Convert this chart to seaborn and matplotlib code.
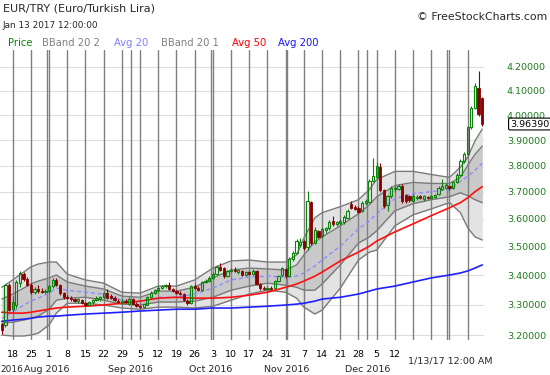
import pandas as pd
import matplotlib
matplotlib.use("Agg")
import matplotlib.pyplot as plt
import matplotlib.ticker as mticker
from matplotlib.transforms import blended_transform_factory
import seaborn as sns

# --- data: EUR/TRY daily candles, 13 Jul 2016 .. 13 Jan 2017 (forex weekdays) ---
dates = pd.bdate_range("2016-07-13", "2017-01-13")

opens = [3.235, 3.233, 3.366, 3.285, 3.300, 3.375, 3.405, 3.388, 3.368, 3.342,
         3.352, 3.347, 3.344, 3.345, 3.362, 3.384, 3.366, 3.338, 3.326, 3.322,
         3.318, 3.312, 3.316, 3.305, 3.300, 3.308, 3.316, 3.320, 3.325, 3.340,
         3.330, 3.324, 3.314, 3.310, 3.312, 3.304, 3.318, 3.304, 3.296, 3.294,
         3.300, 3.325, 3.340, 3.348, 3.358, 3.362, 3.368, 3.354, 3.346, 3.340,
         3.336, 3.314, 3.306, 3.362, 3.358, 3.350, 3.376, 3.382, 3.392, 3.404,
         3.430, 3.424, 3.398, 3.414, 3.420, 3.412, 3.416, 3.402, 3.410, 3.404,
         3.414, 3.370, 3.358, 3.352, 3.356, 3.356, 3.380, 3.400, 3.422, 3.398,
         3.456, 3.478, 3.506, 3.520, 3.498, 3.662, 3.515, 3.556, 3.538, 3.560,
         3.566, 3.594, 3.580, 3.586, 3.588, 3.604, 3.655, 3.645, 3.642, 3.628,
         3.658, 3.664, 3.742, 3.758, 3.796, 3.706, 3.650, 3.684, 3.710, 3.712,
         3.722, 3.688, 3.684, 3.668, 3.676, 3.684, 3.674, 3.682, 3.676, 3.680,
         3.692, 3.712, 3.716, 3.724, 3.714, 3.736, 3.766, 3.818, 3.846, 3.950,
         4.030, 4.110, 4.070]
highs = [3.240, 3.370, 3.372, 3.330, 3.385, 3.415, 3.412, 3.395, 3.372, 3.360,
         3.365, 3.358, 3.352, 3.368, 3.392, 3.390, 3.370, 3.342, 3.332, 3.330,
         3.324, 3.322, 3.320, 3.310, 3.314, 3.320, 3.328, 3.330, 3.342, 3.352,
         3.336, 3.330, 3.320, 3.318, 3.318, 3.325, 3.322, 3.308, 3.300, 3.304,
         3.330, 3.345, 3.352, 3.362, 3.368, 3.370, 3.378, 3.358, 3.350, 3.346,
         3.340, 3.318, 3.368, 3.370, 3.362, 3.382, 3.386, 3.396, 3.410, 3.436,
         3.442, 3.428, 3.420, 3.426, 3.428, 3.422, 3.420, 3.414, 3.414, 3.422,
         3.418, 3.374, 3.362, 3.360, 3.362, 3.384, 3.402, 3.428, 3.426, 3.462,
         3.484, 3.526, 3.530, 3.524, 3.705, 3.668, 3.570, 3.560, 3.570, 3.572,
         3.596, 3.612, 3.592, 3.598, 3.615, 3.635, 3.665, 3.652, 3.648, 3.665,
         3.672, 3.748, 3.830, 3.815, 3.812, 3.712, 3.690, 3.722, 3.722, 3.730,
         3.730, 3.694, 3.690, 3.692, 3.688, 3.690, 3.688, 3.686, 3.690, 3.694,
         3.722, 3.750, 3.732, 3.728, 3.742, 3.772, 3.824, 3.852, 3.956, 4.036,
         4.132, 4.182, 4.075]
lows = [3.205, 3.225, 3.278, 3.275, 3.290, 3.360, 3.380, 3.362, 3.335, 3.335,
        3.338, 3.340, 3.338, 3.340, 3.358, 3.362, 3.333, 3.320, 3.318, 3.314,
        3.310, 3.306, 3.302, 3.296, 3.296, 3.304, 3.312, 3.314, 3.320, 3.318,
        3.318, 3.312, 3.305, 3.304, 3.305, 3.300, 3.300, 3.292, 3.290, 3.290,
        3.298, 3.320, 3.335, 3.344, 3.352, 3.356, 3.350, 3.342, 3.336, 3.332,
        3.312, 3.300, 3.302, 3.352, 3.346, 3.346, 3.372, 3.378, 3.388, 3.400,
        3.416, 3.392, 3.394, 3.410, 3.410, 3.404, 3.398, 3.398, 3.400, 3.400,
        3.366, 3.350, 3.348, 3.346, 3.348, 3.352, 3.376, 3.396, 3.392, 3.394,
        3.450, 3.474, 3.500, 3.490, 3.490, 3.505, 3.508, 3.530, 3.532, 3.548,
        3.560, 3.576, 3.574, 3.578, 3.582, 3.600, 3.638, 3.632, 3.620, 3.624,
        3.650, 3.660, 3.738, 3.750, 3.700, 3.640, 3.628, 3.678, 3.700, 3.706,
        3.660, 3.660, 3.664, 3.664, 3.670, 3.672, 3.668, 3.672, 3.672, 3.676,
        3.688, 3.708, 3.712, 3.708, 3.710, 3.732, 3.760, 3.812, 3.840, 3.944,
        4.024, 3.998, 3.955]
closes = [3.215, 3.366, 3.282, 3.310, 3.378, 3.408, 3.388, 3.368, 3.342, 3.352,
          3.345, 3.344, 3.346, 3.364, 3.384, 3.366, 3.338, 3.325, 3.322, 3.318,
          3.314, 3.318, 3.305, 3.300, 3.310, 3.316, 3.322, 3.326, 3.338, 3.322,
          3.322, 3.316, 3.310, 3.312, 3.310, 3.320, 3.304, 3.296, 3.294, 3.302,
          3.326, 3.340, 3.348, 3.358, 3.364, 3.366, 3.354, 3.346, 3.340, 3.336,
          3.316, 3.306, 3.364, 3.358, 3.350, 3.378, 3.382, 3.392, 3.406, 3.430,
          3.420, 3.396, 3.414, 3.420, 3.414, 3.418, 3.402, 3.410, 3.404, 3.416,
          3.370, 3.356, 3.352, 3.356, 3.354, 3.380, 3.398, 3.424, 3.396, 3.458,
          3.478, 3.520, 3.516, 3.496, 3.665, 3.512, 3.560, 3.536, 3.564, 3.566,
          3.590, 3.582, 3.588, 3.594, 3.606, 3.630, 3.642, 3.638, 3.626, 3.660,
          3.666, 3.740, 3.760, 3.800, 3.706, 3.646, 3.684, 3.716, 3.716, 3.724,
          3.666, 3.668, 3.670, 3.686, 3.682, 3.676, 3.684, 3.676, 3.684, 3.690,
          3.716, 3.722, 3.726, 3.714, 3.736, 3.766, 3.818, 3.846, 3.950, 4.030,
          4.118, 4.006, 3.9639]

# indicator readings (candle index of each reading)
ind_idx = [0, 3, 6, 8, 10, 13, 15, 18, 23, 28, 33, 38, 43, 48, 53, 58, 63, 68,
           73, 78, 81, 83, 86, 88, 93, 98, 101, 103, 108, 113, 118, 123, 126,
           128, 130, 132]
bb2_upper = [3.359, 3.384, 3.411, 3.429, 3.439, 3.446, 3.446, 3.404, 3.384,
             3.373, 3.342, 3.339, 3.363, 3.363, 3.384, 3.425, 3.450, 3.453,
             3.446, 3.446, 3.471, 3.531, 3.604, 3.623, 3.645, 3.671, 3.709,
             3.747, 3.778, 3.778, 3.766, 3.755, 3.794, 3.833, 3.896, 3.944]
bb1_upper = [3.319, 3.336, 3.356, 3.370, 3.380, 3.391, 3.401, 3.377, 3.363,
             3.353, 3.329, 3.325, 3.346, 3.346, 3.359, 3.391, 3.418, 3.425,
             3.422, 3.418, 3.436, 3.471, 3.517, 3.535, 3.575, 3.619, 3.652,
             3.682, 3.724, 3.736, 3.732, 3.732, 3.755, 3.801, 3.844, 3.876]
avg20 = [3.255, 3.275, 3.299, 3.312, 3.322, 3.339, 3.356, 3.349, 3.342,
         3.336, 3.315, 3.312, 3.325, 3.325, 3.336, 3.356, 3.384, 3.394,
         3.397, 3.394, 3.397, 3.408, 3.432, 3.453, 3.502, 3.564, 3.593,
         3.619, 3.675, 3.694, 3.701, 3.709, 3.740, 3.759, 3.782, 3.809]
bb1_lower = [3.239, 3.242, 3.249, 3.255, 3.262, 3.285, 3.315, 3.322, 3.325,
             3.315, 3.302, 3.299, 3.309, 3.309, 3.312, 3.325, 3.349, 3.363,
             3.373, 3.366, 3.359, 3.349, 3.349, 3.370, 3.436, 3.513, 3.535,
             3.557, 3.630, 3.656, 3.671, 3.682, 3.697, 3.686, 3.671, 3.660]
bb2_lower = [3.200, 3.197, 3.197, 3.200, 3.206, 3.233, 3.272, 3.305, 3.305,
             3.299, 3.289, 3.285, 3.292, 3.292, 3.289, 3.295, 3.315, 3.336,
             3.349, 3.342, 3.322, 3.292, 3.269, 3.282, 3.356, 3.453, 3.481,
             3.488, 3.575, 3.615, 3.637, 3.660, 3.623, 3.568, 3.535, 3.524]
avg50 = [3.275, 3.272, 3.272, 3.275, 3.279, 3.285, 3.289, 3.292, 3.295,
         3.299, 3.305, 3.312, 3.322, 3.325, 3.322, 3.322, 3.325, 3.332,
         3.342, 3.359, 3.370, 3.380, 3.397, 3.411, 3.450, 3.481, 3.502,
         3.520, 3.553, 3.582, 3.612, 3.641, 3.660, 3.678, 3.701, 3.720]
avg200 = [3.245, 3.249, 3.252, 3.255, 3.259, 3.262, 3.262, 3.265, 3.269,
          3.272, 3.275, 3.279, 3.282, 3.285, 3.285, 3.289, 3.289, 3.292,
          3.295, 3.299, 3.302, 3.305, 3.312, 3.319, 3.325, 3.336, 3.346,
          3.353, 3.363, 3.377, 3.391, 3.401, 3.408, 3.415, 3.425, 3.436]

price_ticks = [3.2, 3.3, 3.4, 3.5, 3.6, 3.7, 3.8, 3.9, 4.0, 4.1, 4.2]
last_price = 3.96390

UP = "#0a820a"
DOWN = "#850000"
GRID = "#808080"

sns.set_style("white")
plt.rcParams["font.family"] = ["DejaVu Sans"]

fig = plt.figure(figsize=(5.5, 3.75), dpi=100)
ax = fig.add_axes([0, 35 / 375, 484 / 550, 290 / 375])
ax.set_yscale("log")

# bollinger bands
ax.fill_between(ind_idx, bb2_lower, bb2_upper, color="#e3e3e3", lw=0, zorder=1)
ax.fill_between(ind_idx, bb1_lower, bb1_upper, color="#c9c9c9", lw=0, zorder=1.1)

# week / month grid
n = len(dates)
mondays = [i for i, d in enumerate(dates) if d.weekday() == 0]
month_first = [i for i in range(1, n) if dates[i].month != dates[i - 1].month]
for i in mondays:
    ax.axvline(i, color=GRID, lw=1.0, zorder=1.5)
for i in month_first:
    ax.axvline(i - 0.6, color=GRID, lw=1.0, zorder=1.5)
for v in price_ticks:
    ax.axhline(v, color="#dedede", lw=0.8, zorder=0.5)

for band in (bb2_upper, bb2_lower, bb1_upper, bb1_lower):
    sns.lineplot(x=ind_idx, y=band, color="#7a7a7a", lw=1.0, ax=ax, zorder=2)
sns.lineplot(x=ind_idx, y=avg20, color="#8c8cff", lw=1.0, ax=ax, zorder=2.2,
             linestyle=(0, (3, 2)))
sns.lineplot(x=ind_idx, y=avg50, color="#ff1010", lw=1.2, ax=ax, zorder=2.3)
sns.lineplot(x=ind_idx, y=avg200, color="#1f1fff", lw=1.2, ax=ax, zorder=2.3)

# candles
for i in range(n):
    o, h, l, c = opens[i], highs[i], lows[i], closes[i]
    col = UP if c >= o else DOWN
    top, bot = max(o, c), min(o, c)
    ax.vlines(i, top, h, color=col, lw=0.8, zorder=3)
    ax.vlines(i, l, bot, color=col, lw=0.8, zorder=3)
    if c >= o:
        ax.bar(i, top - bot, bottom=bot, width=0.62, facecolor="none",
               edgecolor=col, lw=0.8, zorder=3.1)
    else:
        ax.bar(i, top - bot, bottom=bot, width=0.62, facecolor=col,
               edgecolor=col, lw=0.6, zorder=3.1)

ax.set_xlim(-0.484, 132.48)
ax.set_ylim(3.184, 4.273)
for s in ax.spines.values():
    s.set_visible(False)

ax.yaxis.tick_right()
ax.yaxis.set_major_locator(mticker.FixedLocator(price_ticks))
ax.yaxis.set_minor_locator(mticker.NullLocator())
ax.yaxis.set_major_formatter(mticker.FuncFormatter(lambda v, p: f"{v:.5f}"))
ax.tick_params(axis="y", length=0, pad=16.5, labelsize=6.8, labelcolor="#1d7a1d")

labelled = [i for i in mondays if dates[i] <= pd.Timestamp("2016-12-12")]
ax.set_xticks(labelled)
ax.set_xticklabels([str(dates[i].day) for i in labelled])
ax.tick_params(axis="x", length=0, pad=7.5, labelsize=6.8, labelcolor="black")
ax.xaxis.set_minor_locator(mticker.NullLocator())

bt = blended_transform_factory(ax.transData, ax.transAxes)
for i in month_first[:-1]:
    ax.text(i - 0.6, -0.1034, dates[i].strftime("%b %Y"), transform=bt,
            ha="center", va="center", fontsize=6.8)
# July label: only its year part fits at the left edge
ax.text(0.5 / 484, -0.1034, "2016", transform=ax.transAxes, ha="left",
        va="center", fontsize=6.5)
ax.text(0.93, -0.074, "1/13/17 12:00 AM", transform=ax.transAxes, ha="center",
        va="center", fontsize=6.8)

# last price box
pt = blended_transform_factory(ax.transAxes, ax.transData)
ax.text(510 / 484, last_price, f"{last_price:.5f}", transform=pt, ha="left",
        va="center", fontsize=6.8, color="black", zorder=5,
        bbox=dict(boxstyle="round,pad=0.15", fc="white", ec="black", lw=0.8))

# header
fig.text(3 / 550, 1 - 8.5 / 375, "EUR/TRY (Euro/Turkish Lira)", ha="left",
         va="center", fontsize=8.0)
fig.text(2 / 550, 1 - 25 / 375, "Jan 13 2017 12:00:00", ha="left",
         va="center", fontsize=6.4)
fig.text(547 / 550, 1 - 17.5 / 375, "\u00a9 FreeStockCharts.com", ha="right",
         va="center", fontsize=7.8)
legend_items = [("Price", 8, UP), ("BBand 20 2", 42, "#808080"),
                ("Avg 20", 114, "#8080ff"), ("BBand 20 1", 161, "#808080"),
                ("Avg 50", 232, "#ff0000"), ("Avg 200", 278, "#1414ff")]
for label, px, col in legend_items:
    fig.text(px / 550, 1 - 43 / 375, label, ha="left", va="center",
             fontsize=7.2, color=col)

fig.savefig("out.png", dpi=100)
